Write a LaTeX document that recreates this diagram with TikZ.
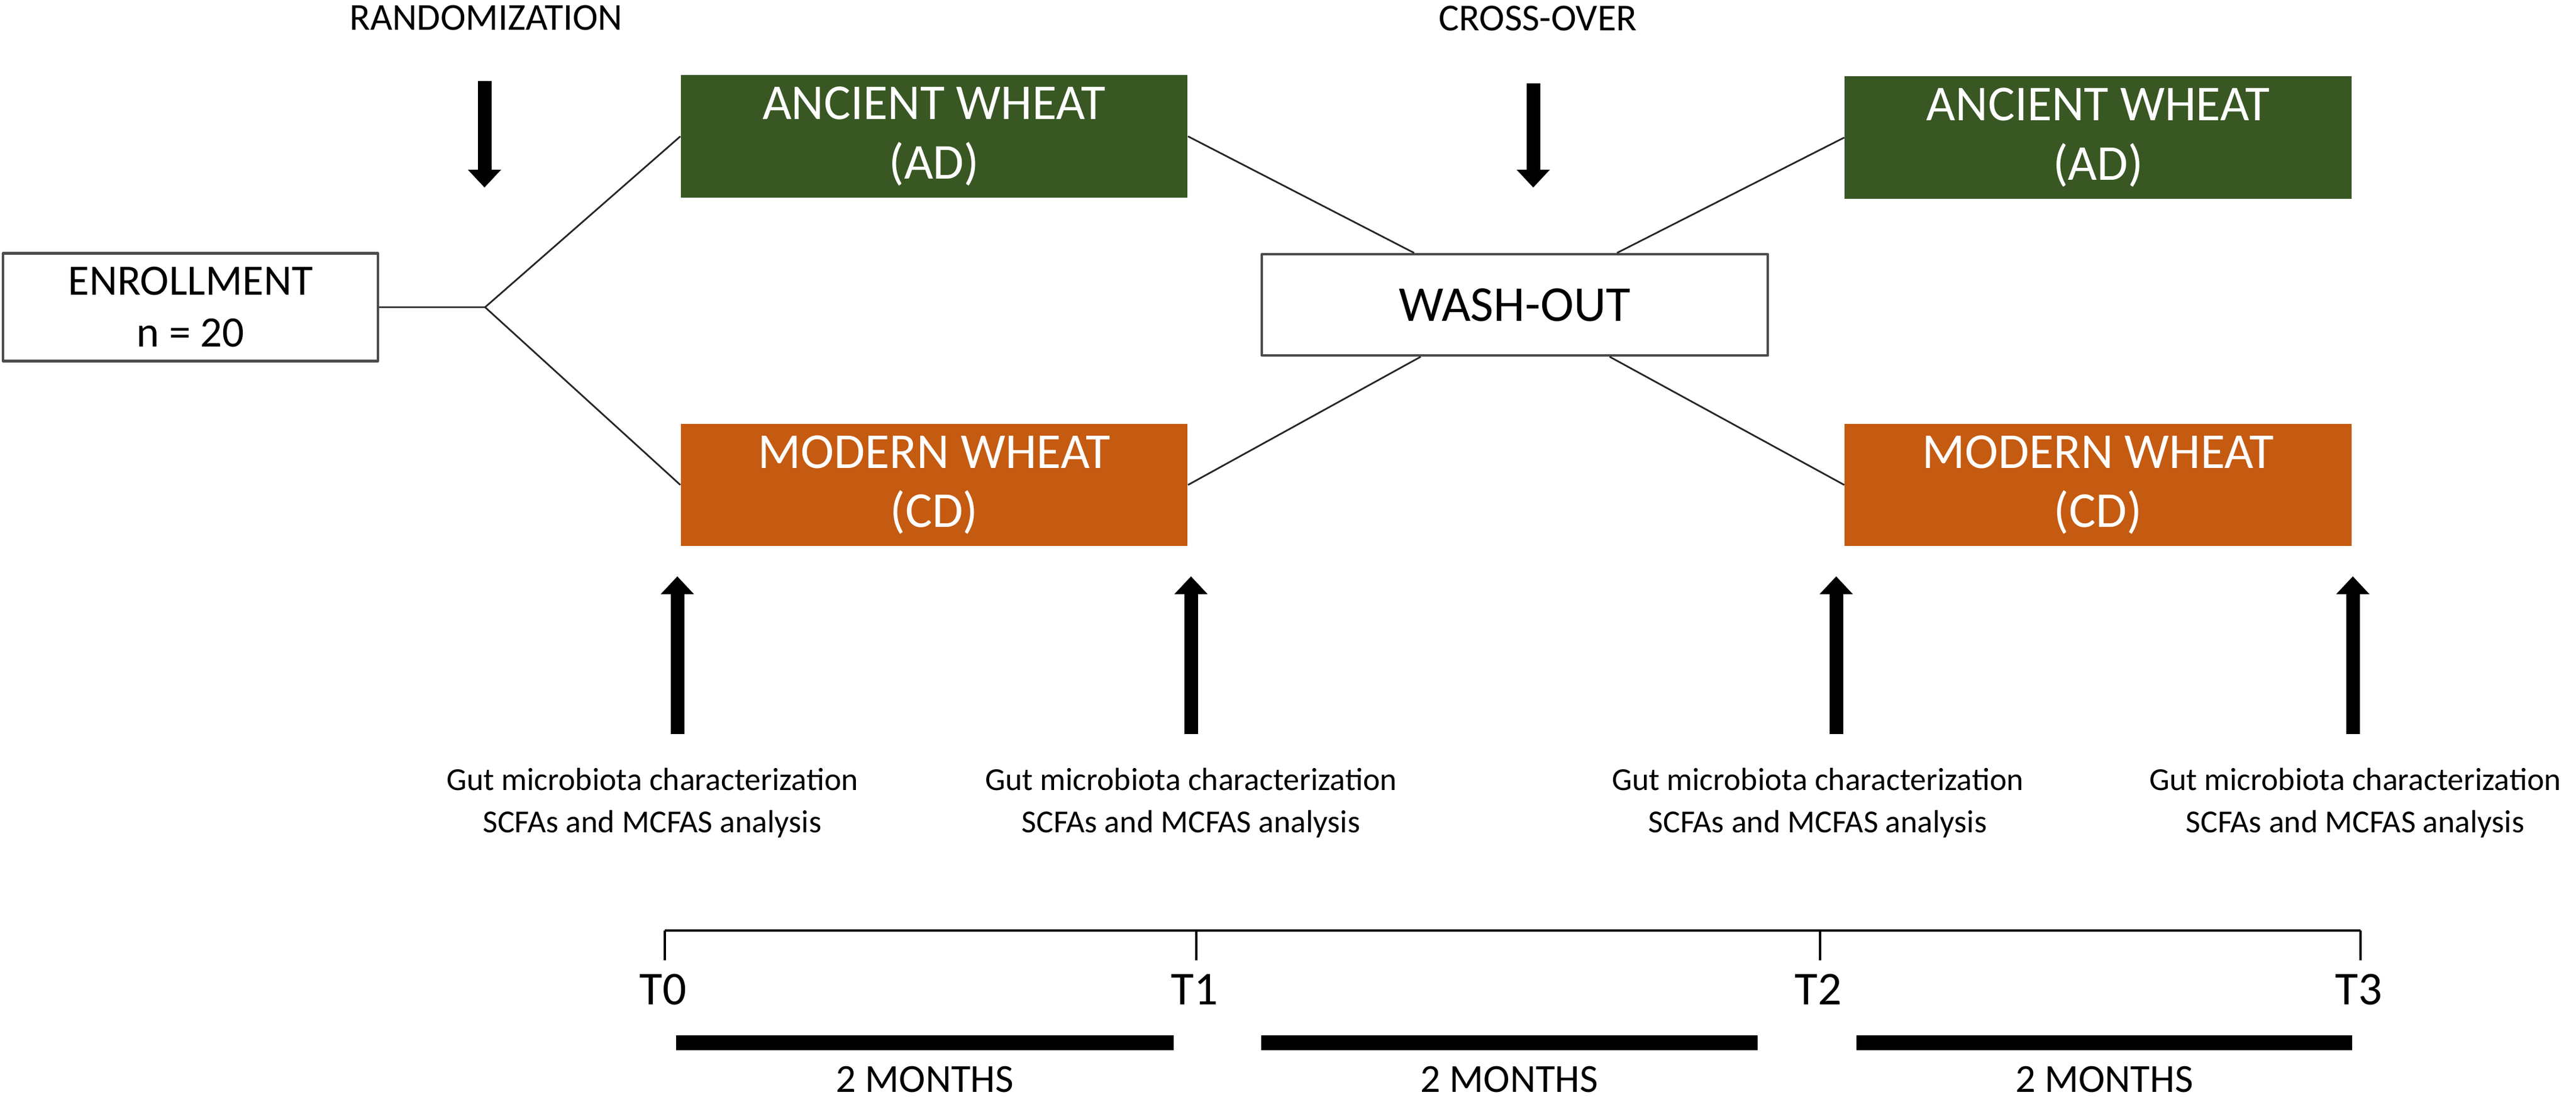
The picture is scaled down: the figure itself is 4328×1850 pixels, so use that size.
\documentclass[tikz,border=0pt]{standalone}
\usepackage{fontspec}
\setmainfont{Carlito}
\usetikzlibrary{arrows.meta}
\definecolor{wheatgreen}{RGB}{56,87,35}
\definecolor{wheatorange}{RGB}{197,90,17}
\tikzset{
	phasebox/.style={minimum width=8.51cm, minimum height=2.05cm, inner sep=0pt, text=white, align=center, font=\fontsize{24}{28.4}\selectfont},
	plainbox/.style={draw=black!70, line width=1.2pt, fill=white, inner sep=0pt, align=center},
	fatarrow/.style={line width=0.23cm, -{Triangle[length=0.3cm,width=0.54cm]}},
	link/.style={draw=black!85, line width=0.8pt},
	toplabel/.style={inner sep=0pt, font=\fontsize{18.2}{22}\selectfont},
	analysis/.style={inner sep=0pt, align=center, font=\fontsize{15.3}{20.2}\selectfont},
	timelabel/.style={inner sep=0pt, font=\fontsize{22.5}{27}\selectfont},
	monthbar/.style={line width=0.25cm},
}
\begin{document}
\begin{tikzpicture}[x=0.01cm, y=-0.01cm, line join=round]
	\useasboundingbox (0,0) rectangle (4328,1850);
	\path
	(320,516) node[plainbox, minimum width=6.29cm, minimum height=1.81cm, font=\fontsize{20.7}{24.75}\selectfont] (enroll) {ENROLLMENT\\n = 20}
	(1569.5,229) node[phasebox, fill=wheatgreen] (ad1) {ANCIENT WHEAT\\(AD)}
	(1569.5,814.5) node[phasebox, fill=wheatorange] (cd1) {MODERN WHEAT\\(CD)}
	(2545,512) node[plainbox, minimum width=8.5cm, minimum height=1.7cm, font=\fontsize{24}{28.4}\selectfont] (wash) {WASH-OUT}
	(3525,231) node[phasebox, fill=wheatgreen] (ad2) {ANCIENT WHEAT\\(AD)}
	(3525,814.5) node[phasebox, fill=wheatorange] (cd2) {MODERN WHEAT\\(CD)}
	(817,30) node[toplabel] (rand) {RANDOMIZATION}
	(2584,31) node[toplabel] (cross) {CROSS-OVER}
	(815,516) coordinate (split)
	(814,136) coordinate (randtop) (814,315) coordinate (randtip)
	(2576,140) coordinate (crosstop) (2576,315) coordinate (crosstip)
	;
	\draw[link] (enroll.east) -- (split) -- (ad1.west);
	\draw[link] (split) -- (cd1.west);
	\draw[link] (ad1.east) -- (wash);
	\draw[link] (cd1.east) -- (wash);
	\draw[link] (wash) -- (ad2.west);
	\draw[link] (wash) -- (cd2.west);
	\draw[fatarrow] (randtop) -- (randtip);
	\draw[fatarrow] (crosstop) -- (crosstip);
	\foreach \x [count=\i] in {1138,2001,3085,3953}
	{
		\path (\x,1233) coordinate (s\i) (\x,968) coordinate (e\i);
		\draw[fatarrow] (s\i) -- (e\i);
	}
	\foreach \x [count=\i] in {1096,2001,3054,3957}
	\node[analysis] (an\i) at (\x,1349) {Gut microbiota characterization\\SCFAs and MCFAS analysis};
	\path (1117,1563) coordinate (t0) (2010,1563) coordinate (t1) (3058,1563) coordinate (t2) (3966,1563) coordinate (t3);
	\draw[line width=1.1pt] (t0) -- (t3);
	\foreach \t in {0,...,3}
	{
		\draw[line width=0.9pt] (t\t) -- ++(0,50) coordinate (k\t);
		\path (t\t) ++(-3,99) node[timelabel] (lab\t) {T\t};
	}
	\foreach \a/\b/\n in {1136/1972/1,2119/2953/2,3119/3952/3}
	{
		\path (\a,1751) coordinate (bs\n) (\b,1751) coordinate (be\n);
		\draw[monthbar] (bs\n) -- (be\n) node[midway, yshift=-0.62cm, timelabel, font=\fontsize{19}{23}\selectfont] (m\n) {2 MONTHS};
	}
\end{tikzpicture}
\end{document}
